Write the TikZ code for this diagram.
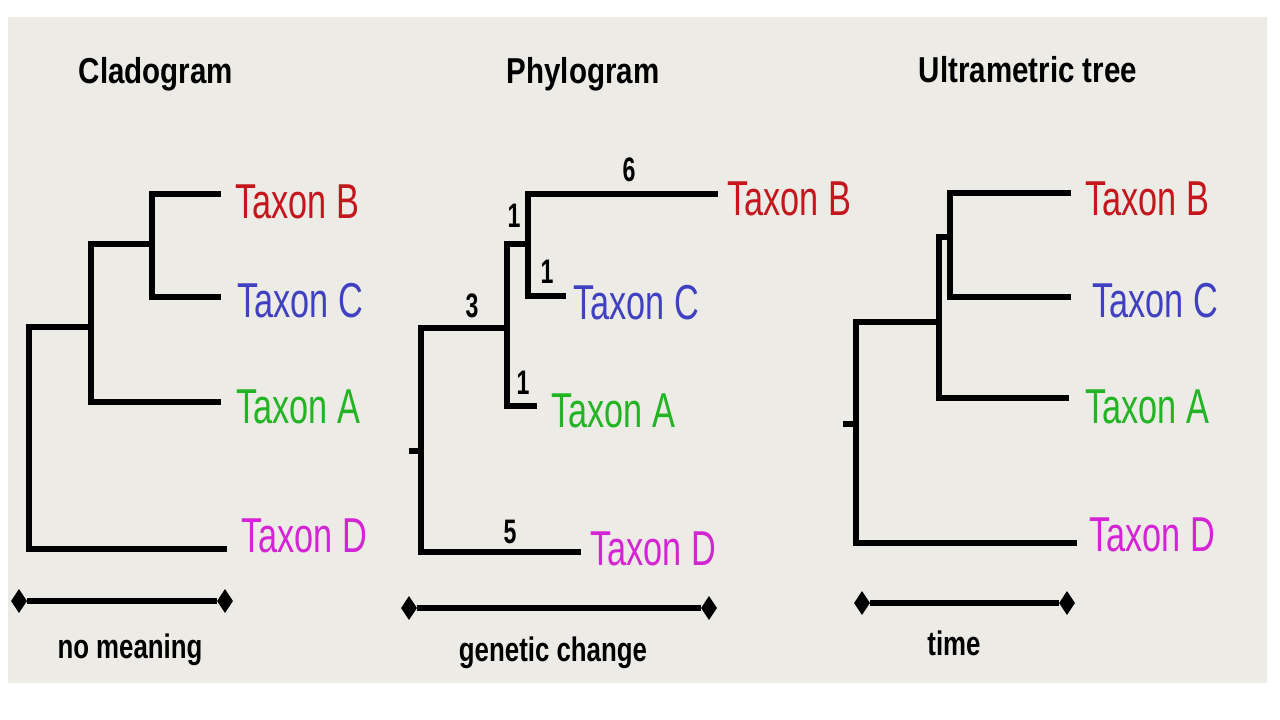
\documentclass[tikz,border=0pt]{standalone}
\usepackage{fontspec}
\setmainfont{Liberation Sans}
\newfontfamily\taxfont[FakeStretch=0.70]{Liberation Sans}
\newfontfamily\ttlfont[FakeStretch=0.82]{Liberation Sans Bold}
\newfontfamily\botfont[FakeStretch=0.76]{Liberation Sans Bold}
\newfontfamily\numfont[FakeStretch=0.68]{Liberation Sans Bold}
\usetikzlibrary{shapes.geometric}
\definecolor{bgpanel}{HTML}{ECEBE6}
\definecolor{taxred}{HTML}{C4161C}
\definecolor{taxblue}{HTML}{4040C2}
\definecolor{taxgreen}{HTML}{22B422}
\definecolor{taxmag}{HTML}{D424D4}
\begin{document}
\begin{tikzpicture}[x=1pt,y=-1pt,
  branch/.style={line width=5.5pt, line join=miter},
  taxlbl/.style={anchor=base west, inner sep=0pt, font=\taxfont\fontsize{49}{50}\selectfont},
  ttl/.style={anchor=base, inner sep=0pt, font=\ttlfont\fontsize{36}{40}\selectfont},
  botlbl/.style={anchor=base, inner sep=0pt, font=\botfont\fontsize{34}{38}\selectfont},
  num/.style={anchor=base, inner sep=0pt, font=\numfont\fontsize{34}{38}\selectfont},
  tip/.style={diamond, fill=black, inner sep=0pt, minimum width=16pt, minimum height=24pt},
  scalebar/.style={line width=5.5pt}
]
\useasboundingbox (0,0) rectangle (1280,720);
\fill[white] (0,0) rectangle (1280,720);
\fill[bgpanel] (8,17) rectangle (1267,683);

% titles
\node[ttl] (t1) at (156,83) {Cladogram};
\node[ttl] (t2) at (583,83) {Phylogram};
\node[ttl] (t3) at (1028,82) {Ultrametric tree};

% ---------- Cladogram ----------
\coordinate (cB) at (221,194);
\coordinate (cC) at (221,297);
\coordinate (cA) at (221,402);
\coordinate (cD) at (227,549);
\coordinate (cBC) at (152,244);
\coordinate (cBCA) at (91,327);
\coordinate (cRoot) at (29,438);
\draw[branch] (cBC) |- (cB);
\draw[branch] (cBC) |- (cC);
\draw[branch] (cBCA) |- (cBC);
\draw[branch] (cBCA) |- (cA);
\draw[branch] (cRoot) |- (cBCA);
\draw[branch] (cRoot) |- (cD);
\node[taxlbl, text=taxred] (cLB) at (235,218) {Taxon B};
\node[taxlbl, text=taxblue] (cLC) at (237,317) {Taxon C};
\node[taxlbl, text=taxgreen] (cLA) at (236,423) {Taxon A};
\node[taxlbl, text=taxmag] (cLD) at (241,552) {Taxon D};
\node[tip] (cs1) at (19,601) {};
\node[tip] (cs2) at (225,601) {};
\draw[scalebar] (cs1) -- (cs2);
\node[botlbl] (b1) at (130,658) {no meaning};

% ---------- Phylogram ----------
\coordinate (pB) at (718,194);
\coordinate (pC) at (566,296);
\coordinate (pA) at (537,406);
\coordinate (pD) at (581,552);
\coordinate (pBC) at (528,244);
\coordinate (pBCA) at (507,328);
\coordinate (pRoot) at (421,451);
\coordinate (pStub) at (409,451);
\draw[branch] (pBC) |- (pB);
\draw[branch] (pBC) |- (pC);
\draw[branch] (pBCA) |- (pBC);
\draw[branch] (pBCA) |- (pA);
\draw[branch] (pRoot) |- (pBCA);
\draw[branch] (pRoot) |- (pD);
\draw[branch] (pStub) -- (pRoot);
\node[num] (n6) at (629,181) {6};
\node[num] (n1a) at (514,227) {1};
\node[num] (n1b) at (547,283) {1};
\node[num] (n3) at (472,317) {3};
\node[num] (n1c) at (523,394) {1};
\node[num] (n5) at (510,543) {5};
\node[taxlbl, text=taxred] (pLB) at (727,215) {Taxon B};
\node[taxlbl, text=taxblue] (pLC) at (573,319) {Taxon C};
\node[taxlbl, text=taxgreen] (pLA) at (551,427) {Taxon A};
\node[taxlbl, text=taxmag] (pLD) at (590,565) {Taxon D};
\node[tip] (ps1) at (409,608) {};
\node[tip] (ps2) at (709,608) {};
\draw[scalebar] (ps1) -- (ps2);
\node[botlbl] (b2) at (553,661) {genetic change};

% ---------- Ultrametric tree ----------
\coordinate (uB) at (1071,193);
\coordinate (uC) at (1071,297);
\coordinate (uA) at (1069,398);
\coordinate (uD) at (1077,543);
\coordinate (uBC) at (950,237);
\coordinate (uBCA) at (939,322);
\coordinate (uRoot) at (856,424);
\coordinate (uStub) at (843,424);
\draw[branch] (uBC) |- (uB);
\draw[branch] (uBC) |- (uC);
\draw[branch] (uBCA) |- (uBC);
\draw[branch] (uBCA) |- (uA);
\draw[branch] (uRoot) |- (uBCA);
\draw[branch] (uRoot) |- (uD);
\draw[branch] (uStub) -- (uRoot);
\node[taxlbl, text=taxred] (uLB) at (1085,215) {Taxon B};
\node[taxlbl, text=taxblue] (uLC) at (1092,317) {Taxon C};
\node[taxlbl, text=taxgreen] (uLA) at (1085,423) {Taxon A};
\node[taxlbl, text=taxmag] (uLD) at (1089,551) {Taxon D};
\node[tip] (us1) at (862,603) {};
\node[tip] (us2) at (1067,603) {};
\draw[scalebar] (us1) -- (us2);
\node[botlbl] (b3) at (954,655) {time};
\end{tikzpicture}
\end{document}
